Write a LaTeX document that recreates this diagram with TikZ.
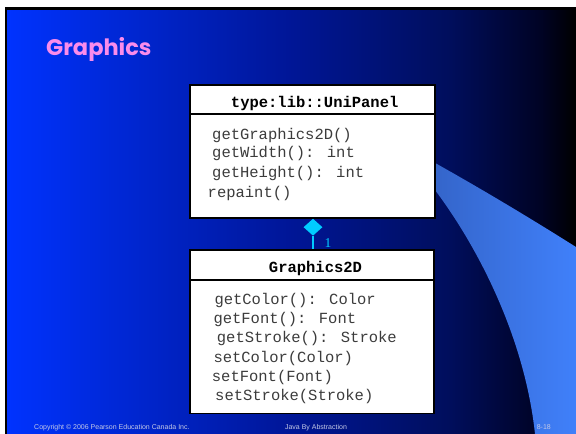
\documentclass[tikz,border=0pt]{standalone}
\usepackage{fontspec}
\setmainfont{Liberation Sans}
\newfontfamily\monof{Liberation Mono}
\newfontfamily\titlef{Poppins}
\newfontfamily\seriff{Liberation Serif}
\usetikzlibrary{shapes.geometric}
\definecolor{titlepink}{RGB}{250,140,235}
\definecolor{linkcyan}{RGB}{0,204,255}
\definecolor{footgray}{RGB}{195,200,230}
\definecolor{waveL}{RGB}{52,100,200}
\definecolor{waveR}{RGB}{64,128,250}
\definecolor{membtext}{RGB}{60,60,60}
\pgfdeclarehorizontalshading{slidebg}{100bp}{rgb(0bp)=(0,0.2,1); rgb(25bp)=(0,0.2,1); rgb(50bp)=(0,0.086,0.59); rgb(64bp)=(0,0.055,0.36); rgb(72bp)=(0,0.01,0.14); rgb(75bp)=(0,0,0); rgb(100bp)=(0,0,0)}
\tikzset{
  umlbox/.style={draw=black, line width=1.3pt, fill=white, inner sep=0pt},
  memb/.style={anchor=base west, inner sep=0pt, text=membtext, font=\monof\fontsize{15.5}{18}\selectfont},
  hdr/.style={anchor=base, inner sep=0pt, font=\monof\bfseries\fontsize{15.5}{18}\selectfont},
  foot/.style={anchor=base, inner sep=0pt, text=footgray, font=\fontsize{7}{8}\selectfont},
}
\begin{document}
\begin{tikzpicture}[x=1pt,y=-1pt]
\useasboundingbox (0,0) rectangle (576,434);
\fill[white] (0,0) rectangle (576,434);
\shade[shading=slidebg] (6,8.5) rectangle (576,434);
\draw[black, line width=2.5pt] (6,434) -- (6,8.5) -- (576,8.5);
% light blue wave
\shade[left color=waveL, right color=waveR]
  (428,159) .. controls (480,188) and (530,218) .. (576,247)
  -- (576,434) -- (535,434)
  .. controls (525,340) and (480,250) .. (435,190)
  -- (428,182) -- cycle;
% title
\node[anchor=base west, inner sep=0pt, text=titlepink, font=\titlef\bfseries\fontsize{22.5}{26}\selectfont] (title) at (46,55) {Graphics};
% upper class
\node[umlbox, minimum width=245pt, minimum height=133pt] (upper) at (312.5,151.5) {};
\draw[line width=1.1pt] (upper.west |- 0,114) -- (upper.east |- 0,114);
\node[hdr] (uname) at (314.7,107) {type:lib::UniPanel};
\node[memb] (u1) at (212,139.5) {getGraphics2D()};
\node[memb] (u2) at (212,157.5) {getWidth(): int};
\node[memb] (u3) at (212,177.5) {getHeight(): int};
\node[memb] (u4) at (207.5,197.5) {repaint()};
% lower class
\node[umlbox, minimum width=244pt, minimum height=163.5pt] (lower) at (312,331.75) {};
\draw[line width=1.1pt] (lower.west |- 0,280) -- (lower.east |- 0,280);
\node[hdr] (lname) at (315.5,272.5) {Graphics2D};
\node[memb] (l1) at (214.3,304) {getColor(): Color};
\node[memb] (l2) at (213.3,323.5) {getFont(): Font};
\node[memb] (l3) at (216.7,342.5) {getStroke(): Stroke};
\node[memb] (l4) at (213.3,362) {setColor(Color)};
\node[memb] (l5) at (211.7,381.5) {setFont(Font)};
\node[memb] (l6) at (215,400.5) {setStroke(Stroke)};
% composition link
\node[diamond, fill=linkcyan, inner sep=0pt, minimum width=19pt, minimum height=17pt, anchor=north] (dia) at (313,218.5) {};
\draw[linkcyan, line width=1.3pt] (dia.south) -- (dia.south |- lower.north);
\node[anchor=base west, inner sep=0pt, text=linkcyan, font=\seriff\fontsize{13.5}{14}\selectfont] (mult) at (324.5,247.5) {1};
% footer
\node[foot, anchor=base west] (f1) at (34,429) {Copyright © 2006 Pearson Education Canada Inc.};
\node[foot] (f2) at (316,429) {Java By Abstraction};
\node[foot, anchor=base west] (f3) at (536.6,429.5) {8-18};
\end{tikzpicture}
\end{document}
